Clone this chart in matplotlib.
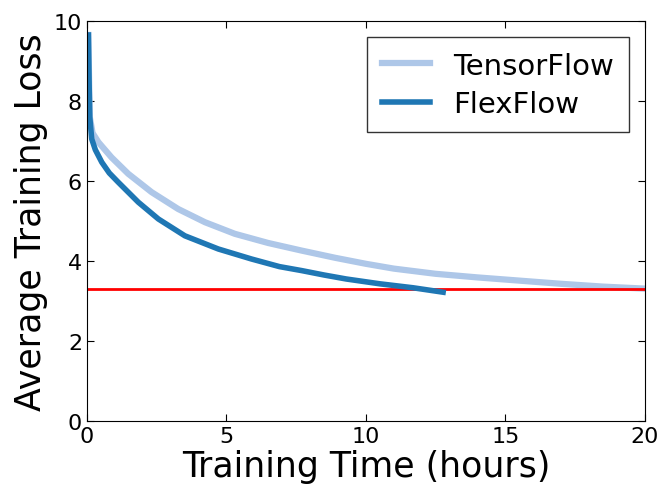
import matplotlib
matplotlib.use('Agg')
from matplotlib import pyplot as plt

# readings
tf_hours = [0.05, 0.08, 0.1, 0.2, 0.41, 0.88, 1.48, 2.32, 3.27, 4.23, 5.3,
            6.5, 7.7, 8.9, 10.0, 11.0, 12.5, 14.0, 15.5, 17.0, 18.5, 20.0]
tf_loss = [9.65, 8.3, 7.6, 7.2, 6.97, 6.59, 6.18, 5.72, 5.3, 4.97, 4.68,
           4.45, 4.26, 4.08, 3.93, 3.81, 3.68, 3.59, 3.51, 3.43, 3.36, 3.31]

ff_hours = [0.05, 0.08, 0.1, 0.17, 0.3, 0.53, 0.8, 1.12, 1.84, 2.56, 3.51,
            4.71, 5.9, 6.9, 7.7, 8.5, 9.3, 10.5, 11.7, 12.77]
ff_loss = [9.65, 8.3, 7.6, 7.05, 6.78, 6.47, 6.2, 5.97, 5.47, 5.05, 4.63,
           4.3, 4.05, 3.86, 3.76, 3.65, 3.55, 3.43, 3.33, 3.22]

target_loss = 3.3

fig = plt.figure(figsize=(6.64, 4.89), dpi=100)
ax = fig.add_axes([0.131, 0.137, 0.84, 0.818])

ax.plot(tf_hours, tf_loss, color='#aec7e8', lw=4.5, label='TensorFlow')
ax.axhline(target_loss, color='#ff0000', lw=2)
ax.plot(ff_hours, ff_loss, color='#1f77b4', lw=4, label='FlexFlow')

ax.set_xlim(0, 20)
ax.set_ylim(0, 10)
ax.set_xticks([0, 5, 10, 15, 20])
ax.set_yticks([0, 2, 4, 6, 8, 10])
ax.tick_params(direction='in', top=True, right=True, labelsize=16, length=5)
ax.set_xlabel('Training Time (hours)', fontsize=25, labelpad=2)
ax.set_ylabel('Average Training Loss', fontsize=25, labelpad=4)

leg = ax.legend(loc='upper right', fontsize=21, handlelength=1.65,
                handletextpad=0.8, borderpad=0.5, labelspacing=0.35,
                fancybox=False, borderaxespad=0.55)
leg.get_frame().set_edgecolor('black')

plt.savefig('out.png', dpi=100)
